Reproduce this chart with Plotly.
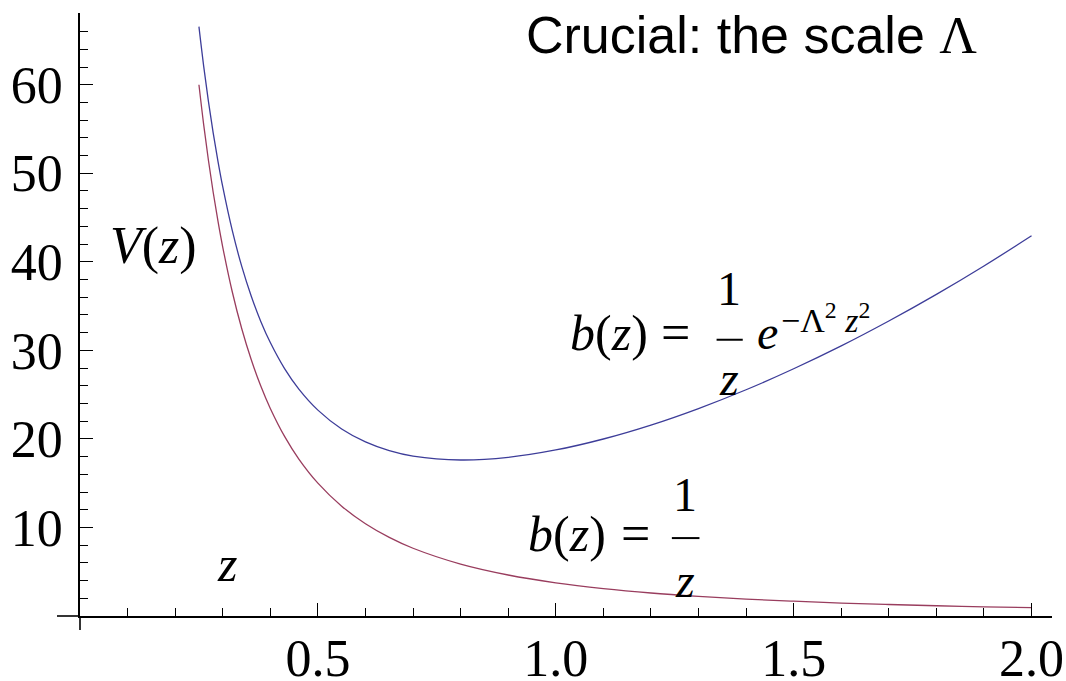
import plotly.graph_objects as go

# Sample points of the two Schrödinger-like potentials V(z)
z_vals = [0.25, 0.26, 0.27, 0.28, 0.29, 0.30, 0.32, 0.34, 0.36, 0.38, 0.40,
          0.43, 0.46, 0.50, 0.55, 0.60, 0.65, 0.70, 0.80, 0.90, 1.00, 1.10,
          1.20, 1.30, 1.40, 1.50, 1.60, 1.70, 1.80, 1.90, 2.00]
v_scaled = [66.56, 62.08, 58.10, 54.54, 51.35, 48.48, 43.54, 39.48, 36.11, 33.27,
            30.88, 27.94, 25.62, 23.25, 21.12, 19.66, 18.68, 18.06, 17.62, 17.92,
            18.75, 19.99, 21.56, 23.43, 25.55, 27.92, 30.50, 33.31, 36.32, 39.53,
            42.94]
v_conformal = [60.00, 55.47, 51.44, 47.83, 44.59, 41.67, 36.62, 32.44, 28.94, 25.97,
               23.44, 20.28, 17.72, 15.00, 12.40, 10.42, 8.88, 7.65, 5.86, 4.63,
               3.75, 3.10, 2.60, 2.22, 1.91, 1.67, 1.46, 1.30, 1.16, 1.04, 0.94]

x_ticks = [0.5, 1.0, 1.5, 2.0]
x_tick_text = ["0.5", "1.0", "1.5", "2.0"]
y_ticks = [10, 20, 30, 40, 50, 60]
y_tick_text = ["10", "20", "30", "40", "50", "60"]

SERIF = "Liberation Serif, Times New Roman, serif"
SANS = "Liberation Sans, Arial, sans-serif"

fig = go.Figure()
fig.add_trace(go.Scatter(x=z_vals, y=v_scaled, mode="lines",
                         line=dict(color="#3d3d99", width=1.3, shape="spline"),
                         hoverinfo="skip"))
fig.add_trace(go.Scatter(x=z_vals, y=v_conformal, mode="lines",
                         line=dict(color="#993d5e", width=1.3, shape="spline"),
                         hoverinfo="skip"))

axis_common = dict(showgrid=False, zeroline=False, showline=True,
                   linecolor="black", linewidth=1.6, ticks="inside",
                   tickcolor="black", tickwidth=1.4, ticklen=13,
                   automargin=False,
                   tickfont=dict(family=SERIF, size=52, color="black"))

fig.update_layout(
    width=1066, height=681,
    margin=dict(l=80, r=14, t=13, b=65),
    paper_bgcolor="white", plot_bgcolor="white",
    showlegend=False,
    xaxis=dict(range=[0, 2.043], tickvals=x_ticks, ticktext=x_tick_text,
               ticklabelstandoff=-4,
               minor=dict(dtick=0.1, tick0=0, ticks="inside", ticklen=8,
                          tickwidth=1.2, tickcolor="black"),
               **axis_common),
    yaxis=dict(range=[0, 68.1], tickvals=y_ticks, ticktext=y_tick_text,
               ticklabelstandoff=5,
               minor=dict(dtick=2, tick0=0, ticks="inside", ticklen=8,
                          tickwidth=1.2, tickcolor="black"),
               **axis_common),
)

# short overhang of the axes past the origin
fig.add_shape(type="line", xref="paper", yref="paper",
              x0=-23 / 972, x1=0, y0=0, y1=0,
              line=dict(color="black", width=1.6))
fig.add_shape(type="line", xref="paper", yref="paper",
              x0=0, x1=0, y0=-14 / 603, y1=0,
              line=dict(color="black", width=1.6))


def label(x, y, text, size=50, family=SERIF, xanchor="center"):
    fig.add_annotation(x=x, y=y, xref="x", yref="y", text=text, showarrow=False,
                       xanchor=xanchor, yanchor="middle",
                       font=dict(family=family, size=size, color="black"))


def frac_bar(x0, x1, y):
    fig.add_shape(type="line", xref="x", yref="y", x0=x0, x1=x1, y0=y, y1=y,
                  line=dict(color="black", width=2))


label(1.412, 65.6, 'Crucial: the scale <span style="font-family:Liberation Serif">Λ</span>',
      size=52, family=SANS)
label(0.155, 41.8, "<i>V</i>(<i>z</i>)", size=52)
label(0.308, 5.9, "<i>z</i>", size=50)

# b(z) = (1/z) exp(-Λ² z²)
label(1.111, 31.98, "<i>b</i>(<i>z</i>)", size=50)
label(1.2515, 31.98, "=", size=52)
label(1.365, 36.95, "1", size=48)
frac_bar(1.338, 1.393, 31.2)
label(1.365, 26.85, "<i>z</i>", size=48)
label(1.445, 31.98, "<i>e</i>", size=48)
label(1.470, 33.6, "−Λ<sup>2</sup> <i>z</i><sup>2</sup>", size=34, xanchor="left")

# b(z) = 1/z
label(1.024, 9.27, "<i>b</i>(<i>z</i>)", size=50)
label(1.168, 9.27, "=", size=52)
label(1.271, 13.7, "1", size=48)
frac_bar(1.244, 1.302, 8.8)
label(1.271, 4.02, "<i>z</i>", size=48)

fig.write_html("out.html")
